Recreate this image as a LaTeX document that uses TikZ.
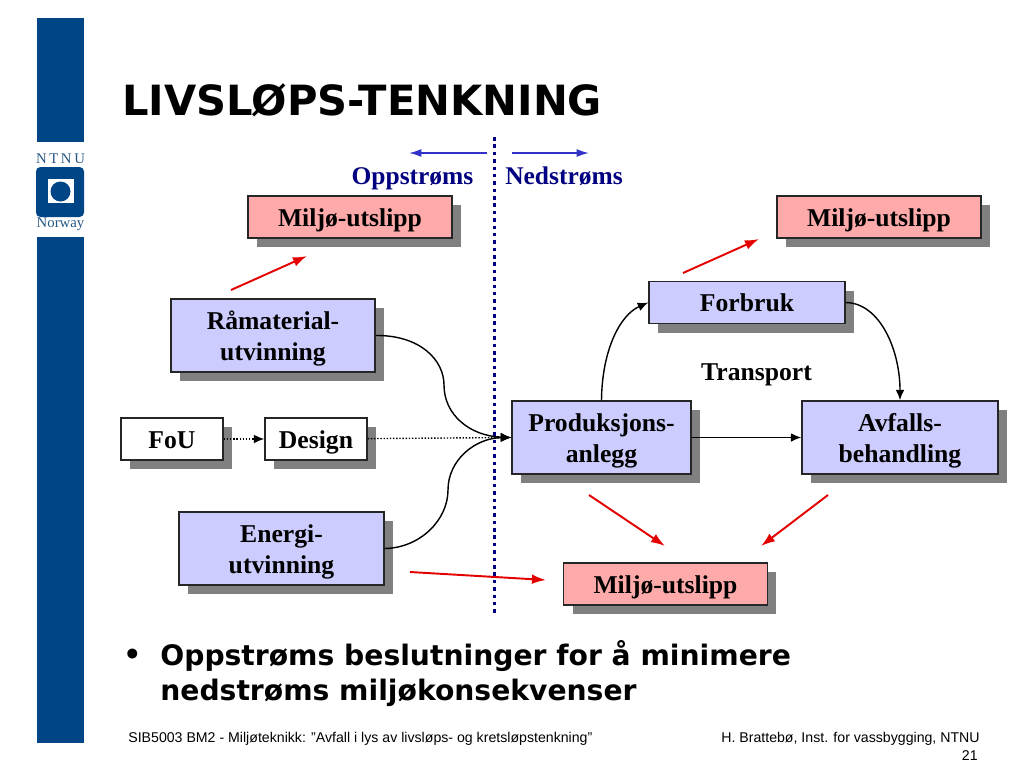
\documentclass[tikz,border=0pt]{standalone}
\usepackage{fontspec}
\setmainfont{Liberation Serif}
\setsansfont{DejaVu Sans}
\newfontfamily\footfont{Liberation Sans}
\usetikzlibrary{shadows,arrows.meta}
\definecolor{ntnublue}{RGB}{0,70,135}
\definecolor{flowblue}{RGB}{204,204,255}
\definecolor{flowred}{RGB}{255,170,170}
\definecolor{streamnavy}{RGB}{0,0,128}
\definecolor{streamblue}{RGB}{50,50,200}
\newcommand{\stagegap}{\rule{0pt}{14.5pt}}
\tikzset{
  x=0.02cm,y=-0.02cm,
  flowbox/.style={draw=black!85,line width=0.8pt,align=center,inner sep=0pt,
    font=\fontsize{14.6}{17.6}\selectfont\bfseries,
    drop shadow={shadow xshift=0.18cm,shadow yshift=-0.18cm,fill=black!50,opacity=1}},
  oneline/.style={flowbox,minimum height=0.84cm,
    execute at begin node={\rule{0pt}{14pt}},execute at end node={\rule[-3.5pt]{0pt}{0pt}}},
  utslipp/.style={oneline,fill=flowred,minimum width=4.08cm},
  stage/.style={flowbox,fill=flowblue,minimum height=1.46cm},
  plain/.style={oneline,fill=white,minimum width=2.04cm},
  flow/.style={black,line width=0.8pt,-{Latex[length=6pt,width=5pt]}},
  dotflow/.style={flow,densely dotted},
  redflow/.style={red!90!black,line width=1.1pt,-{Latex[length=8pt,width=5.5pt]}},
  blueflow/.style={streamblue,line width=0.9pt,-{Latex[length=7pt,width=4.5pt]}},
  streamlabel/.style={anchor=base,text=streamnavy,font=\fontsize{14.5}{17}\selectfont\bfseries},
  logotext/.style={text=ntnublue!70!gray,inner sep=0pt,font=\fontsize{8.4}{10}\selectfont},
  bodytext/.style={inner sep=0pt,font=\sffamily\bfseries\fontsize{16.05}{20}\selectfont},
  foottext/.style={inner sep=0pt,font=\footfont\fontsize{8.05}{10}\selectfont}
}
\begin{document}
\begin{tikzpicture}
\useasboundingbox (0,0) rectangle (1024,768);

% side bar and logo
\fill[ntnublue] (37,18) rectangle (84,142);
\fill[ntnublue] (37,237) rectangle (84,743);
\fill[ntnublue,rounded corners=2.5pt] (36,167) rectangle (84,217);
\fill[white] (48,179) rectangle (74,203);
\fill[ntnublue] (60.5,191.5) circle (10);
\node[logotext] (logotop) at (60.5,159) {N\hspace{1.5pt}T\hspace{1.5pt}N\hspace{1.5pt}U};
\node[logotext] (logobot) at (60.5,224) {Norway};

% title
\node[anchor=west,inner sep=0pt,font=\sffamily\bfseries\fontsize{23.7}{27}\selectfont] (title) at (122,100) {LIVSLØPS-TENKNING};

% stream divider
\coordinate (divtop) at (494.5,137);
\coordinate (divbot) at (494.5,613);
\draw[streamnavy,line width=2pt,dash pattern=on 2pt off 2.2pt] (divtop)--(divbot);
\coordinate (upstart) at (487,153);
\coordinate (upend) at (409,153);
\coordinate (downstart) at (512,153);
\coordinate (downend) at (589,153);
\draw[blueflow] (upstart)--(upend);
\draw[blueflow] (downstart)--(downend);
\node[streamlabel] (oppstroms) at (412.5,184) {Oppstrøms};
\node[streamlabel] (nedstroms) at (564,184) {Nedstrøms};

% boxes
\node[utslipp] (utslippA) at (350,217) {Miljø-utslipp};
\node[utslipp] (utslippB) at (879,217) {Miljø-utslipp};
\node[utslipp] (utslippC) at (665.5,584) {Miljø-utslipp};
\node[stage,minimum width=4.08cm] (ramat) at (273,335.5) {\stagegap Råmaterial-\\utvinning};
\node[plain] (fou) at (172,439) {FoU};
\node[plain] (design) at (316,439) {Design};
\node[stage,minimum width=4.1cm] (energi) at (281.5,548.5) {\stagegap Energi-\\utvinning};
\node[stage,minimum width=3.58cm] (prod) at (601.5,437.5) {\stagegap Produksjons-\\anlegg};
\node[stage,minimum width=3.92cm] (avfall) at (900,437.5) {\stagegap Avfalls-\\behandling};
\node[oneline,fill=flowblue,minimum width=3.92cm] (forbruk) at (747,302.5) {Forbruk};
\node[anchor=base,font=\fontsize{14.6}{17}\selectfont\bfseries] (transport) at (756.5,380) {Transport};

% flows
\coordinate (ramatmid) at (444,385);
\coordinate (energimid) at (448,490);
\draw[flow] (ramat.east) .. controls (420,335) and (444,360) .. (ramatmid) .. controls (444,415) and (470,436) .. (prod.west);
\draw[flow] (energi.east) .. controls (420,548) and (448,520) .. (energimid) .. controls (448,460) and (475,438) .. (prod.west);
\draw[dotflow] (fou)--(design);
\draw[dotflow] (design)--(prod.west);
\draw[flow] (prod)--(avfall);
\draw[flow] (prod.north) .. controls (602,350) and (620,315) .. (forbruk.west);
\draw[flow] (forbruk.east) .. controls (880,303) and (900,350) .. (avfall.north);

% red arrows
\coordinate (redAs) at (231,290);
\coordinate (redAe) at (307,256);
\coordinate (redBs) at (683,273);
\coordinate (redBe) at (759,239);
\coordinate (redCs) at (410,572);
\coordinate (redCe) at (546,580);
\coordinate (redDs) at (589,495);
\coordinate (redDe) at (665,546);
\coordinate (redEs) at (828,495);
\coordinate (redEe) at (761,546);
\draw[redflow] (redAs)--(redAe);
\draw[redflow] (redBs)--(redBe);
\draw[redflow] (redCs)--(redCe);
\draw[redflow] (redDs)--(redDe);
\draw[redflow] (redEs)--(redEe);

% bullet
\node[bodytext,anchor=west] (bullet) at (123,657) {•};
\node[bodytext,anchor=north west,align=left] (conclusion) at (160,640) {Oppstrøms beslutninger for å minimere\\nedstrøms miljøkonsekvenser};

% footer
\node[foottext,anchor=west] (footleft) at (128,739) {SIB5003 BM2 - Miljøteknikk: ”Avfall i lys av livsløps- og kretsløpstenkning”};
\node[foottext,anchor=east] (footright) at (980,739) {H. Brattebø, Inst. for vassbygging, NTNU};
\node[foottext,anchor=east] (pagenum) at (978,756) {21};
\end{tikzpicture}
\end{document}
